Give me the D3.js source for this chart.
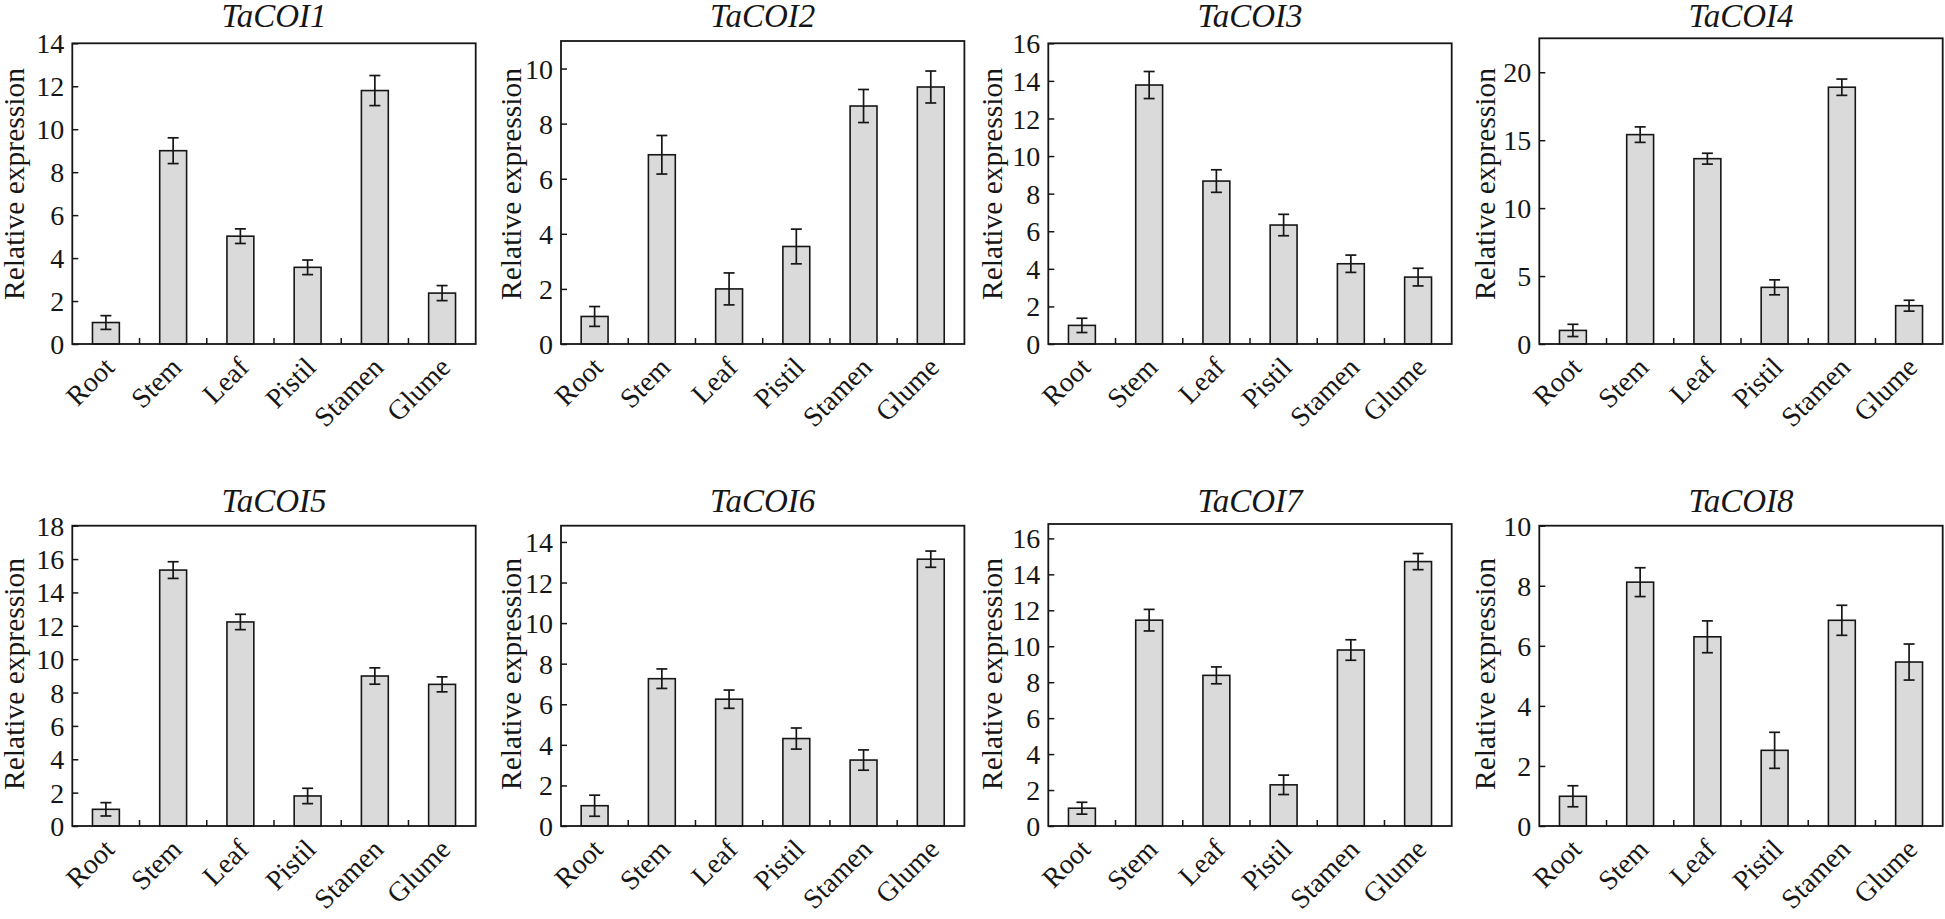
<!DOCTYPE html>
<html>
<head>
<meta charset="utf-8">
<script src="https://cdn.jsdelivr.net/npm/d3@7"></script>
<style>
  html, body { margin: 0; padding: 0; background: #fff; }
  svg { display: block; }
</style>
</head>
<body>
<svg id="chart" width="1945" height="919"></svg>
<script>
// ---------------- DATA ----------------
const categories = ["Root", "Stem", "Leaf", "Pistil", "Stamen", "Glume"];
const geneNames = ["TaCOI1", "TaCOI2", "TaCOI3", "TaCOI4", "TaCOI5", "TaCOI6", "TaCOI7", "TaCOI8"];

const taCOI1 = [1.0, 9.0, 5.02, 3.57, 11.8, 2.37];
const taCOI1Err = [0.32, 0.6, 0.34, 0.34, 0.7, 0.35];
const taCOI2 = [1.0, 6.87, 2.0, 3.54, 8.64, 9.33];
const taCOI2Err = [0.36, 0.7, 0.58, 0.63, 0.6, 0.58];
const taCOI3 = [0.99, 13.78, 8.67, 6.33, 4.27, 3.56];
const taCOI3Err = [0.38, 0.72, 0.6, 0.57, 0.46, 0.47];
const taCOI4 = [1.0, 15.41, 13.64, 4.17, 18.9, 2.82];
const taCOI4Err = [0.45, 0.57, 0.4, 0.55, 0.6, 0.4];
const taCOI5 = [1.0, 15.34, 12.23, 1.8, 8.99, 8.49];
const taCOI5Err = [0.4, 0.5, 0.46, 0.46, 0.49, 0.45];
const taCOI6 = [1.0, 7.26, 6.25, 4.31, 3.25, 13.15];
const taCOI6Err = [0.52, 0.48, 0.45, 0.52, 0.5, 0.4];
const taCOI7 = [0.99, 11.45, 8.38, 2.29, 9.79, 14.71];
const taCOI7Err = [0.33, 0.6, 0.47, 0.54, 0.57, 0.45];
const taCOI8 = [0.99, 8.12, 6.3, 2.52, 6.85, 5.46];
const taCOI8Err = [0.35, 0.48, 0.53, 0.6, 0.5, 0.6];

const seriesValues = [taCOI1, taCOI2, taCOI3, taCOI4, taCOI5, taCOI6, taCOI7, taCOI8];
const seriesErrors = [taCOI1Err, taCOI2Err, taCOI3Err, taCOI4Err, taCOI5Err, taCOI6Err, taCOI7Err, taCOI8Err];

const yMax = [14, 11, 16, 22.5, 18, 14.8, 16.8, 10];
const yTickStep = [2, 2, 2, 5, 2, 2, 2, 2];
const yTickMax = [14, 10, 16, 20, 18, 14, 16, 10];
const yAxisTitle = "Relative expression";

// ---------------- LAYOUT ----------------
const colLeft = [72.3, 561, 1048.3, 1539.3];
const plotWidth = 403.4;
const rowBottom = [344, 826];
const panelTop = [43.3, 41, 43.3, 38.3, 525.7, 525.7, 524, 525.7];
const titleBaseline = [26.7, 512.3];
const axisTitleOffset = [-48, -40, -46, -44];
const axisTitleCenterY = [184, 674];

const serif = "'Liberation Serif', 'Times New Roman', Times, serif";
const ink = "#161616";
const svg = d3.select("#chart");

geneNames.forEach((gene, gi) => {
  const col = gi % 4, row = Math.floor(gi / 4);
  const left = colLeft[col], right = left + plotWidth;
  const top = panelTop[gi], bottom = rowBottom[row];

  const x = d3.scaleBand().domain(categories).range([left, right])
    .paddingInner(0.6).paddingOuter(0.3);
  const y = d3.scaleLinear().domain([0, yMax[gi]]).range([bottom, top]);

  const g = svg.append("g");

  // y axis (ticks inward)
  const ticks = d3.range(0, yTickMax[gi] + 0.001, yTickStep[gi]);
  const yAxis = d3.axisLeft(y).tickValues(ticks).tickFormat(d3.format("d"))
    .tickSizeInner(-6).tickSizeOuter(0).tickPadding(8);
  const ya = g.append("g").attr("transform", `translate(${left},0)`).call(yAxis);
  ya.attr("font-family", serif).attr("font-size", 28);
  ya.select(".domain").remove();
  ya.selectAll(".tick line").attr("stroke", ink).attr("stroke-width", 1.5);
  ya.selectAll(".tick text").attr("font-family", serif).attr("font-size", 28)
    .attr("fill", ink).attr("dy", "0.34em");

  // x tick marks at band boundaries (inward)
  const step = x.step();
  const bounds = d3.range(1, categories.length);
  g.selectAll(".xtick").data(bounds).enter().append("line")
    .attr("x1", d => left + d * step).attr("x2", d => left + d * step)
    .attr("y1", bottom).attr("y2", bottom - 6)
    .attr("stroke", ink).attr("stroke-width", 1.5);

  // bars
  const vals = seriesValues[gi], errs = seriesErrors[gi];
  g.selectAll(".bar").data(categories).enter().append("rect")
    .attr("x", d => x(d)).attr("width", x.bandwidth())
    .attr("y", (d, i) => y(vals[i])).attr("height", (d, i) => bottom - y(vals[i]))
    .attr("fill", "#dadada").attr("stroke", ink).attr("stroke-width", 1.6);

  // error bars
  const cap = 5.5;
  categories.forEach((c, i) => {
    const cx = x(c) + x.bandwidth() / 2;
    const yHi = y(vals[i] + errs[i]), yLo = y(vals[i] - errs[i]);
    g.append("line").attr("x1", cx).attr("x2", cx).attr("y1", yHi).attr("y2", yLo)
      .attr("stroke", ink).attr("stroke-width", 1.7);
    g.append("line").attr("x1", cx - cap).attr("x2", cx + cap).attr("y1", yHi).attr("y2", yHi)
      .attr("stroke", ink).attr("stroke-width", 1.7);
    g.append("line").attr("x1", cx - cap).attr("x2", cx + cap).attr("y1", yLo).attr("y2", yLo)
      .attr("stroke", ink).attr("stroke-width", 1.7);
  });

  // frame
  g.append("rect").attr("x", left).attr("y", top).attr("width", right - left)
    .attr("height", bottom - top).attr("fill", "none")
    .attr("stroke", ink).attr("stroke-width", 1.8);

  // x category labels rotated -45
  g.selectAll(".xlab").data(categories).enter().append("text")
    .attr("transform", d => `translate(${x(d) + x.bandwidth() / 2 + 10},${bottom + 25}) rotate(-45)`)
    .attr("text-anchor", "end").attr("font-family", serif).attr("font-size", 28)
    .attr("fill", ink).text(d => d);

  // y axis title
  g.append("text")
    .attr("transform", `translate(${left + axisTitleOffset[col]},${axisTitleCenterY[row]}) rotate(-90)`)
    .attr("text-anchor", "middle").attr("font-family", serif).attr("font-size", 29.5)
    .attr("fill", ink).text(yAxisTitle);

  // panel title
  g.append("text").attr("x", (left + right) / 2).attr("y", titleBaseline[row])
    .attr("text-anchor", "middle").attr("font-family", serif).attr("font-size", 33)
    .attr("font-style", "italic").attr("fill", ink).text(gene);
});
</script>
</body>
</html>
